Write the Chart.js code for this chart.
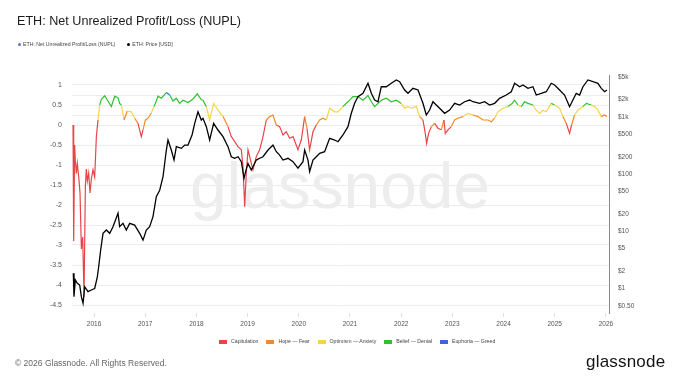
<!DOCTYPE html>
<html>
<head>
<meta charset="utf-8">
<script src="https://cdn.jsdelivr.net/npm/chart.js@4.4.1/dist/chart.umd.min.js"></script>
<style>
  body { margin: 0; background: #fff; font-family: "Liberation Sans", Arial, sans-serif; }
  #wrap { position: relative; width: 680px; height: 383px; overflow: hidden; }
  #chart { position: absolute; left: 0; top: 0; }
  .txt { position: absolute; white-space: nowrap; }
  #title { left: 17px; top: 14px; font-size: 12.6px; color: #1b1b1b; }
  #legendTop { left: 18px; top: 41px; font-size: 5.2px; color: #444; }
  #legendTop span.dot { display: inline-block; width: 3px; height: 3px; border-radius: 50%; margin-right: 2px; vertical-align: middle; }
  #legendTop span.item { margin-right: 12px; }
  #zones { left: 219px; top: 338px; font-size: 5.2px; color: #444; }
  #zones span.box { display: inline-block; width: 8px; height: 4px; margin-right: 4px; vertical-align: middle; }
  #zones span.item { margin-right: 8px; }
  #copy { left: 15px; top: 358px; font-size: 8.5px; color: #666; }
  #logo { left: 586px; top: 352px; font-size: 17px; color: #141414; letter-spacing: 0.2px; }
</style>
</head>
<body>
<div id="wrap">
  <canvas id="chart" width="680" height="383"></canvas>
  <div class="txt" id="title">ETH: Net Unrealized Profit/Loss (NUPL)</div>
  <div class="txt" id="legendTop"></div>
  <div class="txt" id="zones"></div>
  <div class="txt" id="copy">© 2026 Glassnode. All Rights Reserved.</div>
  <div class="txt" id="logo">glassnode</div>
</div>
<script>
// NUPL (decimal year, value)
const nuplTime = [
  2015.590, 2015.603, 2015.622, 2015.635, 2015.655, 2015.674, 2015.701, 2015.727, 2015.753, 2015.779,
  2015.805, 2015.831, 2015.850, 2015.870, 2015.896, 2015.922, 2015.948, 2015.980, 2016.013, 2016.046,
  2016.078, 2016.111, 2016.143, 2016.208, 2016.273, 2016.339, 2016.404, 2016.469, 2016.501, 2016.534,
  2016.586, 2016.651, 2016.729, 2016.794, 2016.859, 2016.924, 2016.957, 2017.003, 2017.055, 2017.120,
  2017.172, 2017.198, 2017.250, 2017.315, 2017.413, 2017.478, 2017.543, 2017.608, 2017.673, 2017.738,
  2017.836, 2017.934, 2018.018, 2018.096, 2018.129, 2018.194, 2018.259, 2018.337, 2018.422, 2018.520,
  2018.617, 2018.682, 2018.747, 2018.813, 2018.878, 2018.910, 2018.943, 2018.975, 2019.008, 2019.073,
  2019.105, 2019.170, 2019.236, 2019.301, 2019.366, 2019.431, 2019.496, 2019.561, 2019.626, 2019.691,
  2019.756, 2019.822, 2019.887, 2019.984, 2020.050, 2020.115, 2020.160, 2020.212, 2020.277, 2020.342,
  2020.408, 2020.473, 2020.538, 2020.603, 2020.701, 2020.766, 2020.863, 2020.961, 2021.059, 2021.156,
  2021.254, 2021.352, 2021.417, 2021.482, 2021.547, 2021.612, 2021.710, 2021.807, 2021.905, 2022.003,
  2022.068, 2022.133, 2022.198, 2022.296, 2022.361, 2022.426, 2022.471, 2022.497, 2022.536, 2022.589,
  2022.654, 2022.719, 2022.784, 2022.836, 2022.862, 2022.914, 2022.979, 2023.044, 2023.109, 2023.207,
  2023.305, 2023.402, 2023.500, 2023.598, 2023.695, 2023.760, 2023.826, 2023.891, 2023.988, 2024.086,
  2024.171, 2024.216, 2024.281, 2024.346, 2024.411, 2024.477, 2024.574, 2024.639, 2024.704, 2024.770,
  2024.835, 2024.932, 2024.997, 2025.095, 2025.160, 2025.225, 2025.290, 2025.329, 2025.388, 2025.453,
  2025.551, 2025.616, 2025.714, 2025.779, 2025.844, 2025.909, 2025.974, 2026.020
];
const nuplValue = [
  0.00, -2.90, -0.50, -0.88, -1.21, -0.96, -1.29, -1.71, -3.10, -2.80,
  -4.30, -1.54, -1.10, -1.40, -1.20, -1.70, -1.35, -1.12, -1.30, -0.29,
  0.125, 0.50, 0.64, 0.73, 0.60, 0.46, 0.72, 0.68, 0.54, 0.50,
  0.125, 0.35, 0.33, 0.17, 0.04, -0.29, -0.12, 0.12, 0.17, 0.30,
  0.46, 0.54, 0.72, 0.67, 0.81, 0.75, 0.60, 0.67, 0.54, 0.62,
  0.56, 0.65, 0.78, 0.63, 0.62, 0.46, 0.125, 0.54, 0.37, 0.21,
  -0.04, -0.29, -0.41, -0.54, -0.62, -1.04, -2.04, -1.20, -0.62, -0.96,
  -1.12, -0.79, -0.62, -0.29, 0.125, 0.21, 0.25, 0.00, -0.04, -0.25,
  -0.17, -0.33, -0.29, -0.62, -0.37, 0.21, -0.08, -0.62, -0.17, 0.00,
  0.125, 0.17, 0.125, 0.42, 0.33, 0.33, 0.46, 0.58, 0.71, 0.71,
  0.62, 0.74, 0.58, 0.46, 0.54, 0.62, 0.67, 0.58, 0.62, 0.54,
  0.42, 0.46, 0.42, 0.46, 0.21, 0.125, -0.21, -0.46, -0.21, -0.04,
  0.04, -0.08, -0.12, 0.125, -0.21, -0.12, -0.04, 0.125, 0.17, 0.21,
  0.29, 0.25, 0.21, 0.125, 0.125, 0.08, 0.17, 0.33, 0.42, 0.46,
  0.54, 0.62, 0.50, 0.46, 0.58, 0.54, 0.50, 0.37, 0.29, 0.37,
  0.33, 0.54, 0.50, 0.42, 0.21, 0.04, -0.21, 0.00, 0.25, 0.37,
  0.46, 0.54, 0.50, 0.46, 0.37, 0.21, 0.25, 0.21
];

// ETH price in USD (decimal year, price)
const priceTime = [
  2015.596, 2015.609, 2015.635, 2015.674, 2015.720, 2015.753, 2015.786, 2015.818, 2015.883, 2015.948,
  2016.013, 2016.065, 2016.091, 2016.130, 2016.176, 2016.241, 2016.306, 2016.371, 2016.469, 2016.501,
  2016.566, 2016.631, 2016.697, 2016.794, 2016.892, 2016.957, 2017.022, 2017.087, 2017.152, 2017.217,
  2017.283, 2017.348, 2017.413, 2017.445, 2017.510, 2017.563, 2017.608, 2017.706, 2017.771, 2017.836,
  2017.915, 2017.967, 2018.031, 2018.096, 2018.129, 2018.194, 2018.259, 2018.337, 2018.422, 2018.520,
  2018.617, 2018.682, 2018.747, 2018.813, 2018.878, 2018.930, 2018.969, 2019.008, 2019.073, 2019.105,
  2019.170, 2019.236, 2019.301, 2019.399, 2019.496, 2019.561, 2019.626, 2019.691, 2019.789, 2019.887,
  2019.984, 2020.082, 2020.115, 2020.180, 2020.212, 2020.277, 2020.342, 2020.408, 2020.505, 2020.603,
  2020.701, 2020.766, 2020.863, 2020.961, 2021.026, 2021.091, 2021.156, 2021.254, 2021.352, 2021.417,
  2021.482, 2021.547, 2021.612, 2021.710, 2021.807, 2021.905, 2021.970, 2022.068, 2022.133, 2022.231,
  2022.329, 2022.426, 2022.491, 2022.556, 2022.621, 2022.686, 2022.751, 2022.849, 2022.947, 2023.044,
  2023.142, 2023.240, 2023.337, 2023.402, 2023.532, 2023.630, 2023.728, 2023.826, 2023.923, 2024.053,
  2024.151, 2024.216, 2024.314, 2024.379, 2024.477, 2024.574, 2024.639, 2024.737, 2024.835, 2024.932,
  2024.997, 2025.095, 2025.192, 2025.290, 2025.355, 2025.420, 2025.486, 2025.551, 2025.649, 2025.746,
  2025.844, 2025.909, 2025.974, 2026.020
];
const priceValue = [
  1.84, 0.72, 1.41, 1.23, 1.15, 0.72, 0.55, 1.07, 0.88, 0.94,
  1.00, 1.60, 2.40, 4.70, 9.20, 10.5, 9.20, 12.0, 20.6, 12.0,
  13.7, 10.5, 13.7, 12.8, 9.20, 7.00, 10.5, 12.0, 18.0, 40.0,
  52, 90, 262, 392, 262, 175, 300, 280, 320, 320,
  480, 767, 1224, 877, 937, 670, 392, 767, 586, 448,
  300, 200, 188, 200, 164, 84, 117, 153, 117, 134,
  175, 188, 200, 262, 320, 245, 214, 175, 188, 164,
  126, 164, 262, 175, 110, 175, 200, 230, 245, 420,
  392, 366, 480, 670, 1148, 1715, 2238, 2565, 3837, 2565,
  1958, 1828, 3342, 3342, 3837, 4385, 4090, 2930, 2565, 3133,
  2930, 1715, 1071, 1310, 1828, 1603, 1402, 1148, 1310, 1715,
  1603, 1828, 1958, 1828, 1715, 1828, 1603, 1715, 2098, 2393,
  2735, 3837, 3342, 3580, 3133, 3342, 2393, 2565, 2735, 3837,
  3580, 2930, 2393, 1496, 1958, 2565, 2393, 3342, 4385, 4090,
  3837, 3133, 2735, 2930
];

const yearTicks = [2016, 2017, 2018, 2019, 2020, 2021, 2022, 2023, 2024, 2025, 2026];
const nuplTicks = [1, 0.75, 0.5, 0.25, 0, -0.5, -1, -1.5, -2, -2.5, -3, -3.5, -4, -4.5];
const priceTicks = [5000, 2000, 1000, 500, 200, 100, 50, 20, 10, 5, 2, 1, 0.5];
const priceLabels = ['$5k', '$2k', '$1k', '$500', '$200', '$100', '$50', '$20', '$10', '$5', '$2', '$1', '$0.50'];

const zoneNames = ['Capitulation', 'Hope \u2014 Fear', 'Optimism \u2014 Anxiety', 'Belief \u2014 Denial', 'Euphoria \u2014 Greed'];
const zoneColors = ['#e8454a', '#f48a24', '#f5d544', '#2ec22e', '#3f63e0'];
const zoneLimits = [0, 0.25, 0.5, 0.75];

function zoneColor(v) {
    for (let i = 0; i < zoneLimits.length; i++) {
        if (v < zoneLimits[i]) return zoneColors[i];
    }
    return zoneColors[4];
}

// legends as plain html
document.getElementById('legendTop').innerHTML =
    '<span class="item"><span class="dot" style="background:#5a74cf"></span>ETH: Net Unrealized Profit/Loss (NUPL)</span>' +
    '<span class="item"><span class="dot" style="background:#000"></span>ETH: Price [USD]</span>';
document.getElementById('zones').innerHTML = zoneNames.map((n, i) =>
    '<span class="item"><span class="box" style="background:' + zoneColors[i] + '"></span>' + n + '</span>').join('');

const tickFont = { family: "'Liberation Sans', Arial, sans-serif", size: 6.5 };

const watermark = {
    id: 'watermark',
    beforeDatasetsDraw(chart) {
        const ctx = chart.ctx;
        ctx.save();
        ctx.font = "64px 'Liberation Sans', Arial, sans-serif";
        ctx.fillStyle = '#ededed';
        const w = ctx.measureText('glassnode').width;
        ctx.translate(190, 208);
        ctx.scale(300 / w, 1);
        ctx.fillText('glassnode', 0, 0);
        ctx.restore();
    }
};

new Chart(document.getElementById('chart'), {
    type: 'line',
    data: {
        datasets: [
            {
                label: 'ETH: Price [USD]',
                data: priceTime.map((t, i) => ({ x: t, y: priceValue[i] })),
                yAxisID: 'price',
                borderColor: '#000',
                borderWidth: 1.3,
                pointRadius: 0,
                tension: 0
            },
            {
                label: 'ETH: Net Unrealized Profit/Loss (NUPL)',
                data: nuplTime.map((t, i) => ({ x: t, y: nuplValue[i] })),
                yAxisID: 'nupl',
                borderColor: '#e8454a',
                borderWidth: 1.2,
                pointRadius: 0,
                tension: 0,
                segment: {
                    borderColor: c => zoneColor((c.p0.parsed.y + c.p1.parsed.y) / 2)
                }
            }
        ]
    },
    options: {
        responsive: false,
        animation: false,
        devicePixelRatio: 1,
        layout: { padding: { top: 75, left: 0, right: 0, bottom: 0 } },
        plugins: { legend: { display: false }, tooltip: { enabled: false } },
        scales: {
            x: {
                type: 'linear',
                min: 2015.57,
                max: 2026.06,
                afterBuildTicks: s => { s.ticks = yearTicks.map(v => ({ value: v })); },
                afterFit: s => { s.height = 70; },
                grid: { drawOnChartArea: false, tickLength: 4, color: '#e0e0e0' },
                border: { display: false },
                ticks: { font: tickFont, color: '#555', padding: 3, autoSkip: false, maxRotation: 0,
                    callback: v => String(v) }
            },
            nupl: {
                position: 'left',
                min: -4.7,
                max: 1.25,
                afterBuildTicks: s => { s.ticks = nuplTicks.map(v => ({ value: v })); },
                afterFit: s => { s.width = 72; },
                grid: { color: '#ececec', drawTicks: false },
                border: { display: false },
                ticks: { font: { family: tickFont.family, size: 7 }, color: '#555', padding: 10, autoSkip: false,
                    callback: v => (Math.abs(v * 2 - Math.round(v * 2)) < 1e-9 ? String(v) : '') }
            },
            price: {
                type: 'logarithmic',
                position: 'right',
                min: 0.373,
                max: 5356,
                afterBuildTicks: s => { s.ticks = priceTicks.map(v => ({ value: v })); },
                afterFit: s => { s.width = 71; },
                grid: { drawOnChartArea: false, drawTicks: false },
                border: { display: true, color: '#8a8a8a', width: 1 },
                ticks: { font: tickFont, color: '#555', padding: 9, autoSkip: false,
                    callback: v => priceLabels[priceTicks.indexOf(v)] }
            }
        }
    },
    plugins: [watermark]
});
</script>
</body>
</html>
